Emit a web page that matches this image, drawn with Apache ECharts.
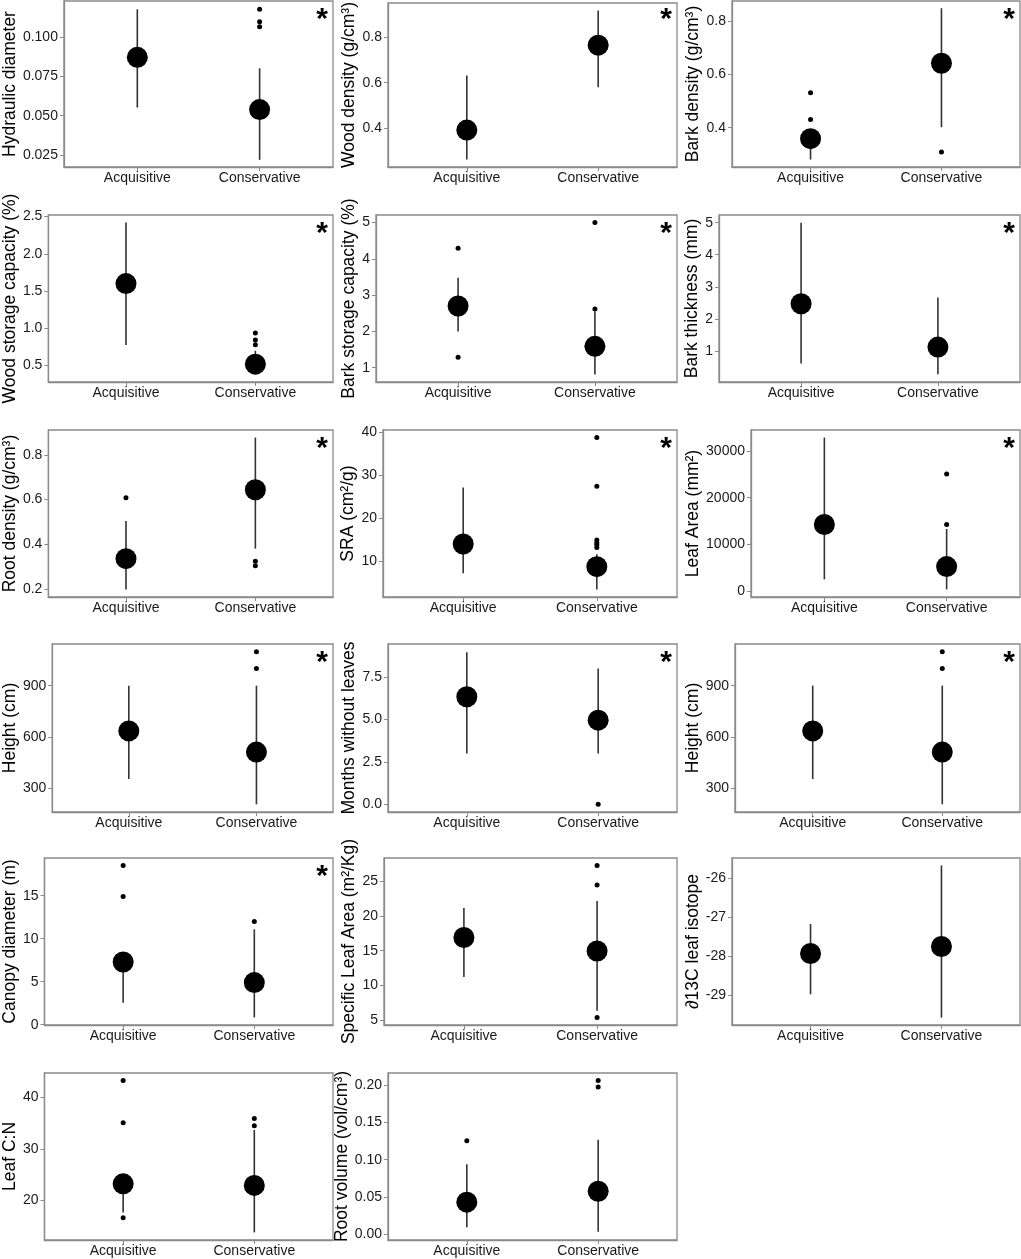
<!DOCTYPE html>
<html>
<head>
<meta charset="utf-8">
<script src="https://cdn.jsdelivr.net/npm/echarts@6/dist/echarts.min.js"></script>
<style>
  html, body { margin: 0; padding: 0; background: #fff; }
  #chart { width: 1021px; height: 1259px; }
</style>
</head>
<body>
<div id="chart"></div>
<script>
// categories on the x axis of every panel
const categories = ['Acquisitive', 'Conservative']

// one entry per panel, reading order
const traits = [
  'Hydraulic diameter', 'Wood density (g/cm³)', 'Bark density (g/cm³)',
  'Wood storage capacity (%)', 'Bark storage capacity (%)', 'Bark thickness (mm)',
  'Root density (g/cm³)', 'SRA (cm²/g)', 'Leaf Area (mm²)',
  'Height (cm)', 'Months without leaves', 'Height (cm)',
  'Canopy diameter (m)', 'Specific Leaf Area (m²/Kg)', '∂13C leaf isotope',
  'Leaf C:N', 'Root volume (vol/cm³)'
]
const medAcq = [0.0873, 0.393, 0.359, 1.60, 2.70, 2.47, 0.335, 14.1, 14255, 635, 6.34, 635, 7.29, 16.9, -27.93, 23.2, 0.0428]
const lowAcq = [0.0552, 0.265, 0.281, 0.776, 2.0, 0.61, 0.197, 7.29, 2527, 353, 3.0, 353, 2.55, 11.2, -28.98, 17.6, 0.009]
const highAcq = [0.118, 0.631, 0.385, 2.419, 3.48, 5.0, 0.504, 27.2, 32870, 900, 8.96, 900, 8.3, 21.15, -27.17, 24.5, 0.094]
const outAcq = [[], [], [0.531, 0.431], [], [4.29, 1.29], [], [0.608], [], [], [], [], [], [18.5, 14.9], [], [], [43.3, 35.1, 16.6], [0.1255]]

const medCons = [0.0539, 0.764, 0.641, 0.519, 1.59, 1.12, 0.644, 8.83, 5248, 511, 4.96, 511, 4.9, 14.95, -27.75, 22.9, 0.0575]
const lowCons = [0.0218, 0.580, 0.402, 0.384, 0.815, 0.27, 0.38, 3.55, 367, 205, 3.0, 205, 0.85, 6.34, -29.58, 13.75, 0.003]
const highCons = [0.0803, 0.915, 0.847, 0.70, 2.55, 2.67, 0.878, 11.7, 13300, 900, 8.0, 900, 11.09, 22.16, -25.66, 33.7, 0.1268]
const outCons = [[0.118, 0.110, 0.1068], [], [0.309], [0.938, 0.843, 0.78], [5.0, 2.62], [], [0.323, 0.303],
  [38.8, 27.5, 15.0, 14.4, 13.9, 13.3], [25054, 14255], [1099, 1000], [0], [1099, 1000], [12.0],
  [27.25, 24.47, 5.39], [], [35.9, 34.5], [0.2067, 0.198]]

const yTicks = [[0.025, 0.05, 0.075, 0.1], [0.4, 0.6, 0.8], [0.4, 0.6, 0.8], [0.5, 1, 1.5, 2, 2.5],
  [1, 2, 3, 4, 5], [1, 2, 3, 4, 5], [0.2, 0.4, 0.6, 0.8], [10, 20, 30, 40], [0, 10000, 20000, 30000],
  [300, 600, 900], [0, 2.5, 5, 7.5], [300, 600, 900], [0, 5, 10, 15], [5, 10, 15, 20, 25],
  [-29, -28, -27, -26], [20, 30, 40], [0, 0.05, 0.1, 0.15, 0.2]]
const yDecimals = [3, 1, 1, 1, 0, 0, 1, 0, 0, 0, 1, 0, 0, 0, 0, 0, 2]
const yMin = [0.0172, 0.232, 0.253, 0.28, 0.606, 0.03, 0.163, 1.79, -1258, 160, -0.45, 160, -0.03, 4.3, -29.77, 12.27, -0.0082]
const yMax = [0.1233, 0.948, 0.874, 2.52, 5.21, 5.24, 0.912, 40.56, 34495, 1144, 9.45, 1144, 19.38, 28.34, -25.47, 44.78, 0.2169]
const significant = [1, 1, 1, 1, 1, 1, 1, 1, 1, 1, 1, 1, 1, 0, 0, 0, 0]

// panel placement (pixels)
const rowTB = [[1, 167], [215, 382], [430, 597], [644, 812], [858, 1025], [1073, 1240]]
const colRight = [333, 677, 1020]
const gridLeft = [60, 388, 732, 44, 376, 719, 44, 383, 751, 48, 388, 735, 41, 384, 732, 41, 388]
const titleX = [9, 353, 695]

const FONT = 'Liberation Sans, Arial, Helvetica, sans-serif'
const frame = '#8a8a8a'

const grid = []
const xAxis = []
const yAxis = []
const series = []
const graphic = []

traits.forEach((name, i) => {
  const row = Math.floor(i / 3)
  const col = i % 3
  const [top, bottom] = rowTB[row]
  const left = gridLeft[i]
  const right = colRight[col]

  grid.push({
    left: left, top: top, width: right - left, height: bottom - top,
    show: true, borderColor: frame, borderWidth: 1.3, backgroundColor: '#fff'
  })

  xAxis.push({
    gridIndex: i, type: 'value', min: 0.4, max: 2.6,
    axisLine: { show: true, onZero: false, lineStyle: { color: frame, width: 1.3 } },
    axisTick: { show: true, length: 4, customValues: [1, 2], lineStyle: { color: frame } },
    axisLabel: {
      customValues: [1, 2], margin: 4, color: '#1a1a1a', fontSize: 14, fontFamily: FONT,
      formatter: v => categories[Math.round(v) - 1]
    },
    splitLine: { show: false }
  })

  const dec = yDecimals[i]
  yAxis.push({
    gridIndex: i, type: 'value', min: yMin[i], max: yMax[i],
    name: name, nameLocation: 'middle', nameGap: left - titleX[col],
    nameTextStyle: { fontSize: 17.5, color: '#000', fontFamily: FONT, verticalAlign: 'middle' },
    axisLine: { show: true, onZero: false, lineStyle: { color: frame, width: 1.3 } },
    axisTick: { show: true, length: 4, customValues: yTicks[i], lineStyle: { color: frame } },
    axisLabel: {
      customValues: yTicks[i], margin: 6, color: '#1a1a1a', fontSize: 14, fontFamily: FONT,
      formatter: v => v.toFixed(dec)
    },
    splitLine: { show: false }
  })

  series.push({
    type: 'custom', xAxisIndex: i, yAxisIndex: i,
    data: [[1, lowAcq[i], highAcq[i]], [2, lowCons[i], highCons[i]]],
    encode: { x: 0, y: [1, 2] },
    renderItem: (params, api) => {
      const lo = api.coord([api.value(0), api.value(1)])
      const hi = api.coord([api.value(0), api.value(2)])
      return {
        type: 'line',
        shape: { x1: lo[0], y1: lo[1], x2: hi[0], y2: hi[1] },
        style: { stroke: '#333', lineWidth: 1.6 }
      }
    },
    silent: true
  })

  series.push({
    type: 'scatter', xAxisIndex: i, yAxisIndex: i,
    data: [[1, medAcq[i]], [2, medCons[i]]],
    symbolSize: 21, itemStyle: { color: '#000', opacity: 1 }, silent: true
  })

  const outs = outAcq[i].map(v => [1, v]).concat(outCons[i].map(v => [2, v]))
  series.push({
    type: 'scatter', xAxisIndex: i, yAxisIndex: i,
    data: outs, symbolSize: 5, itemStyle: { color: '#000', opacity: 1 }, silent: true
  })

  if (significant[i]) {
    graphic.push({
      type: 'text', x: right - 11, y: top + 4,
      style: { text: '*', font: 'bold 30px ' + FONT, fill: '#000', align: 'center', verticalAlign: 'top' }
    })
  }
})

const chart = echarts.init(document.getElementById('chart'), null, { renderer: 'canvas' })
chart.setOption({
  animation: false,
  backgroundColor: '#fff',
  grid, xAxis, yAxis, series, graphic
})
</script>
</body>
</html>
